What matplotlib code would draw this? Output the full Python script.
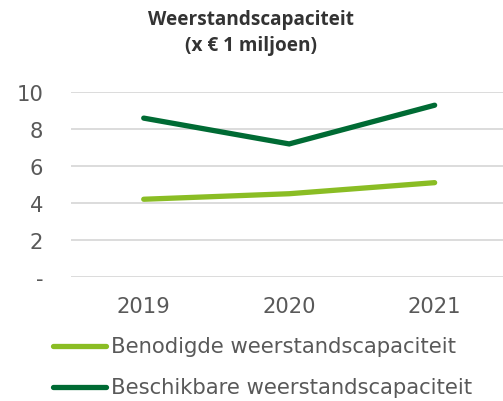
import matplotlib.pyplot as plt
from matplotlib.lines import Line2D

years = ['2019', '2020', '2021']
benodigd = [4.2, 4.5, 5.1]
beschikbaar = [8.6, 7.2, 9.3]
yticks = [0, 2, 4, 6, 8, 10]
ytick_labels = ['-', '2', '4', '6', '8', '10']

light = '#8abd24'
dark = '#006b34'
grey = '#595959'

fig = plt.figure(figsize=(5.03, 4.02), dpi=100)
ax = fig.add_axes([71 / 503, 1 - 277.7 / 402, 1 - 71 / 503, 184.4 / 402])

x = range(len(years))
ax.plot(x, benodigd, color=light, lw=3.8, solid_capstyle='round', solid_joinstyle='round')
ax.plot(x, beschikbaar, color=dark, lw=3.8, solid_capstyle='round', solid_joinstyle='miter')

ax.set_xlim(-0.5, 2.47)
ax.set_ylim(0, 10)
ax.set_xticks(list(x))
ax.set_xticklabels(years)
ax.set_yticks(yticks)
ax.set_yticklabels(ytick_labels)
ax.tick_params(length=0, labelsize=15.2, labelcolor=grey)
ax.tick_params(axis='y', pad=20)
ax.tick_params(axis='x', pad=14)
ax.grid(axis='y', color='#d6d6d6', lw=1.2)
ax.set_axisbelow(True)
for s in ax.spines.values():
    s.set_visible(False)

fig.text(251 / 503, 1 - 20 / 402, 'Weerstandscapaciteit', ha='center', va='center',
         fontsize=13.7, fontweight='bold', family='Open Sans', color='#333333')
fig.text(251 / 503, 1 - 46 / 402, '(x € 1 miljoen)', ha='center', va='center',
         fontsize=13.7, fontweight='bold', family='Open Sans', color='#333333')

# legend drawn by hand below the axis
for ypos, col, lab in [(347, light, 'Benodigde weerstandscapaciteit'),
                       (388, dark, 'Beschikbare weerstandscapaciteit')]:
    fy = 1 - ypos / 402
    fig.add_artist(Line2D([53 / 503, 106 / 503], [fy, fy], color=col, lw=3.8,
                          solid_capstyle='round', transform=fig.transFigure))
    fig.text(111 / 503, fy, lab, ha='left', va='center', fontsize=15.2, color=grey)

fig.savefig('out.png', dpi=100)
